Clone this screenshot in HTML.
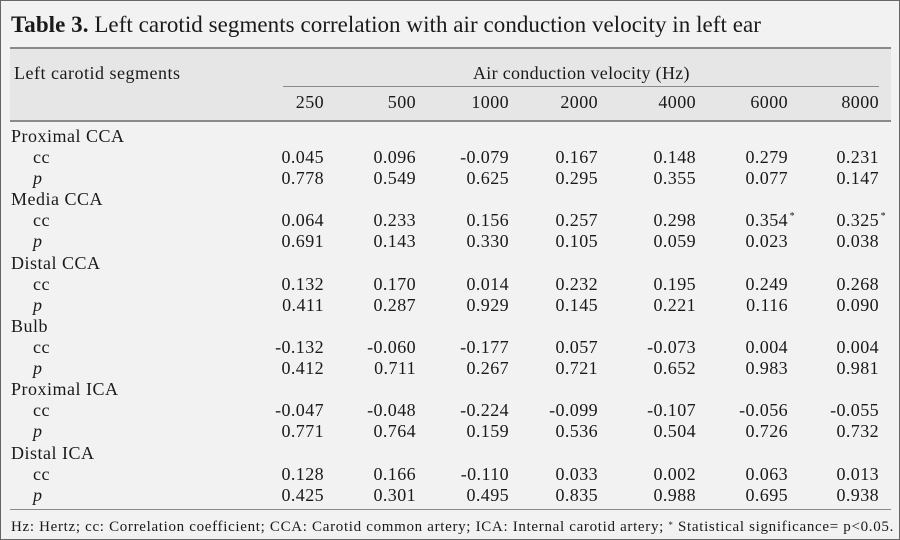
<!DOCTYPE html>
<html><head><style>
body{margin:0;width:900px;height:540px;overflow:hidden;background:#fff}
#f{position:absolute;left:0;top:0;width:898px;height:538px;border:1px solid #666;background:#f2f2f2;font-family:"Liberation Serif","DejaVu Serif",serif;color:#1a1a1a}
.t{position:absolute;white-space:nowrap;font-size:18px;line-height:20px;letter-spacing:0.5px}
.r{position:absolute;white-space:nowrap;font-size:18px;line-height:20px;text-align:right;width:90px;letter-spacing:0.4px}
.ln{position:absolute;background:#8a8a8a}
sup{position:absolute;font-size:10px;top:-3px}
</style></head><body><div id="f">
<div class="t" style="left:10px;top:10px;font-size:23px;line-height:28px;letter-spacing:0.05px"><b>Table 3.</b> Left carotid segments correlation with air conduction velocity in left ear</div>
<div style="position:absolute;left:9px;top:47px;width:881px;height:73px;background:#e6e6e6"></div>
<div class="ln" style="left:9px;top:46px;width:881px;height:2px"></div>
<div class="ln" style="left:9px;top:119px;width:881px;height:2px"></div>
<div class="ln" style="left:282px;top:85px;width:596px;height:1px"></div>
<div class="ln" style="left:9px;top:508px;width:881px;height:1px"></div>
<div class="t" style="left:13px;top:62px">Left carotid segments</div>
<div class="t" style="left:472px;top:62px;letter-spacing:0.3px">Air conduction velocity (Hz)</div>
<div id="c"></div>
<div class="t" style="left:10px;top:514px;font-size:15px;letter-spacing:0.68px">Hz: Hertz; cc: Correlation coefficient; CCA: Carotid common artery; ICA: Internal carotid artery; <sup style="position:static;font-size:9px;vertical-align:3px">*</sup> Statistical significance= p&lt;0.05.</div>
</div>
<script>
var R=[323,415,508,597,695,787,878];
var h=['250','500','1000','2000','4000','6000','8000'];
var out='';
h.forEach(function(v,i){out+='<div class="r" style="left:'+(R[i]-90)+'px;top:91px">'+v+'</div>';});
var g=[['Proximal CCA',['0.045','0.096','-0.079','0.167','0.148','0.279','0.231'],['0.778','0.549','0.625','0.295','0.355','0.077','0.147']],
['Media CCA',['0.064','0.233','0.156','0.257','0.298','0.354*','0.325*'],['0.691','0.143','0.330','0.105','0.059','0.023','0.038']],
['Distal CCA',['0.132','0.170','0.014','0.232','0.195','0.249','0.268'],['0.411','0.287','0.929','0.145','0.221','0.116','0.090']],
['Bulb',['-0.132','-0.060','-0.177','0.057','-0.073','0.004','0.004'],['0.412','0.711','0.267','0.721','0.652','0.983','0.981']],
['Proximal ICA',['-0.047','-0.048','-0.224','-0.099','-0.107','-0.056','-0.055'],['0.771','0.764','0.159','0.536','0.504','0.726','0.732']],
['Distal ICA',['0.128','0.166','-0.110','0.033','0.002','0.063','0.013'],['0.425','0.301','0.495','0.835','0.988','0.695','0.938']]];
g.forEach(function(s,k){var y=125+k*63.3;
out+='<div class="t" style="left:10px;top:'+y+'px">'+s[0]+'</div>';
out+='<div class="t" style="left:32px;top:'+(y+21)+'px">cc</div>';
out+='<div class="t" style="left:32px;top:'+(y+42)+'px"><i>p</i></div>';
[1,2].forEach(function(j){s[j].forEach(function(v,i){var st='';if(v.slice(-1)=='*'){v=v.slice(0,-1);st='<sup style="right:-7px">*</sup>';}
out+='<div class="r" style="left:'+(R[i]-90)+'px;top:'+(y+21*j)+'px"><span style="position:relative">'+v+st+'</span></div>';});});
});
document.getElementById('c').outerHTML=out;
</script>
</body></html>
